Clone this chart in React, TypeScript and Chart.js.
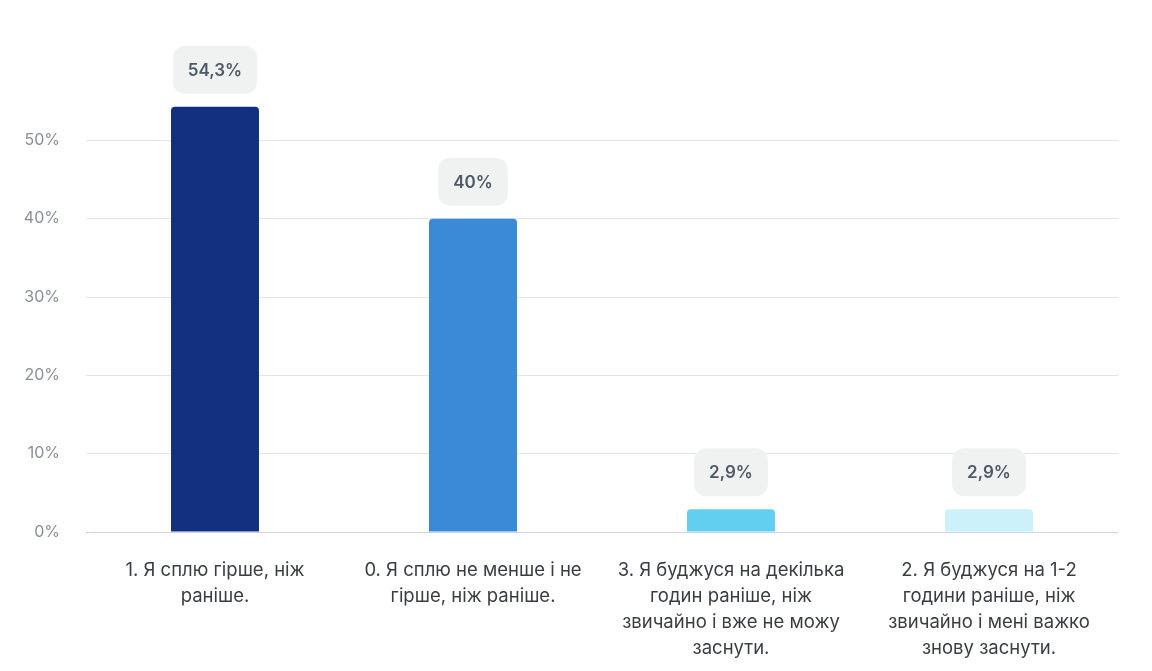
import React, { useEffect, useRef } from 'react';
import Chart from 'chart.js/auto';

const categories: string[][] = [
  ['1. Я сплю гірше, ніж', 'раніше.'],
  ['0. Я сплю не менше і не', 'гірше, ніж раніше.'],
  ['3. Я буджуся на декілька', 'годин раніше, ніж', 'звичайно і вже не можу', 'заснути.'],
  ['2. Я буджуся на 1-2', 'години раніше, ніж', 'звичайно і мені важко', 'знову заснути.'],
];
const values = [54.3, 40, 2.9, 2.9];
const barColors = ['#12307f', '#3a8ad8', '#62cef0', '#cdf1fa'];
const yTicks = [0, 10, 20, 30, 40, 50];

const FONT = "Inter, 'Noto Sans', sans-serif";

const fmt = (v: number) => String(v).replace('.', ',') + '%';

const bubblePlugin = {
  id: 'bubbleLabels',
  afterDatasetsDraw(chart: any) {
    const ctx = chart.ctx;
    const meta = chart.getDatasetMeta(0);
    ctx.save();
    ctx.font = `600 17px ${FONT}`;
    meta.data.forEach((bar: any, i: number) => {
      const text = fmt(values[i]);
      const w = ctx.measureText(text).width + 30;
      const h = 48;
      const x = bar.x - w / 2;
      const y = bar.y - 13 - h;
      ctx.fillStyle = '#f0f2f2';
      ctx.beginPath();
      ctx.roundRect(x, y, w, h, 12);
      ctx.fill();
      ctx.fillStyle = '#4f5968';
      ctx.textAlign = 'center';
      ctx.textBaseline = 'middle';
      ctx.fillText(text, bar.x, y + h / 2 + 1);
    });
    ctx.restore();
  },
};

const App = () => {
  const chartRef = useRef<HTMLCanvasElement>(null);
  const chartInstance = useRef<Chart | null>(null);

  useEffect(() => {
    if (!chartRef.current) return;
    if (chartInstance.current) chartInstance.current.destroy();
    const ctx = chartRef.current.getContext('2d');
    if (!ctx) return;

    chartInstance.current = new Chart(ctx, {
      type: 'bar',
      data: {
        labels: categories,
        datasets: [
          {
            data: values,
            backgroundColor: barColors,
            borderRadius: { topLeft: 4, topRight: 4, bottomLeft: 0, bottomRight: 0 },
            borderSkipped: false,
            barPercentage: 1,
            categoryPercentage: 0.341,
          },
        ],
      },
      options: {
        responsive: true,
        maintainAspectRatio: false,
        animation: false,
        layout: { padding: { top: 62, right: 34, left: 0, bottom: 0 } },
        plugins: {
          legend: { display: false },
          tooltip: { enabled: false },
        },
        scales: {
          y: {
            min: 0,
            max: 60,
            afterBuildTicks: (scale: any) => {
              scale.ticks = yTicks.concat([60]).map((v) => ({ value: v }));
            },
            afterFit: (scale: any) => {
              scale.width = 86;
            },
            border: { display: false },
            grid: {
              drawTicks: false,
              color: (c: any) =>
                c.tick && c.tick.value === 60
                  ? 'rgba(0,0,0,0)'
                  : c.tick && c.tick.value === 0
                  ? '#c9d4ef'
                  : '#e3e4e6',
              lineWidth: 1,
            },
            ticks: {
              padding: 26,
              color: '#8a8e94',
              font: { family: FONT, size: 16 },
              callback: (v: any) => (v === 60 ? '' : v + '%'),
            },
          },
          x: {
            afterFit: (scale: any) => {
              scale.height = 139;
            },
            border: { display: false },
            grid: { display: false, drawTicks: false },
            ticks: {
              padding: 25,
              color: '#3a3d42',
              maxRotation: 0,
              autoSkip: false,
              font: { family: FONT, size: 18.5, lineHeight: 1.41 },
            },
          },
        },
      },
      plugins: [bubblePlugin],
    });

    return () => {
      if (chartInstance.current) {
        chartInstance.current.destroy();
        chartInstance.current = null;
      }
    };
  }, []);

  return (
    <div style={{ position: 'fixed', left: 0, top: 0, width: 1152, height: 671, background: '#fff' }}>
      <canvas ref={chartRef}></canvas>
    </div>
  );
};

export default App;
